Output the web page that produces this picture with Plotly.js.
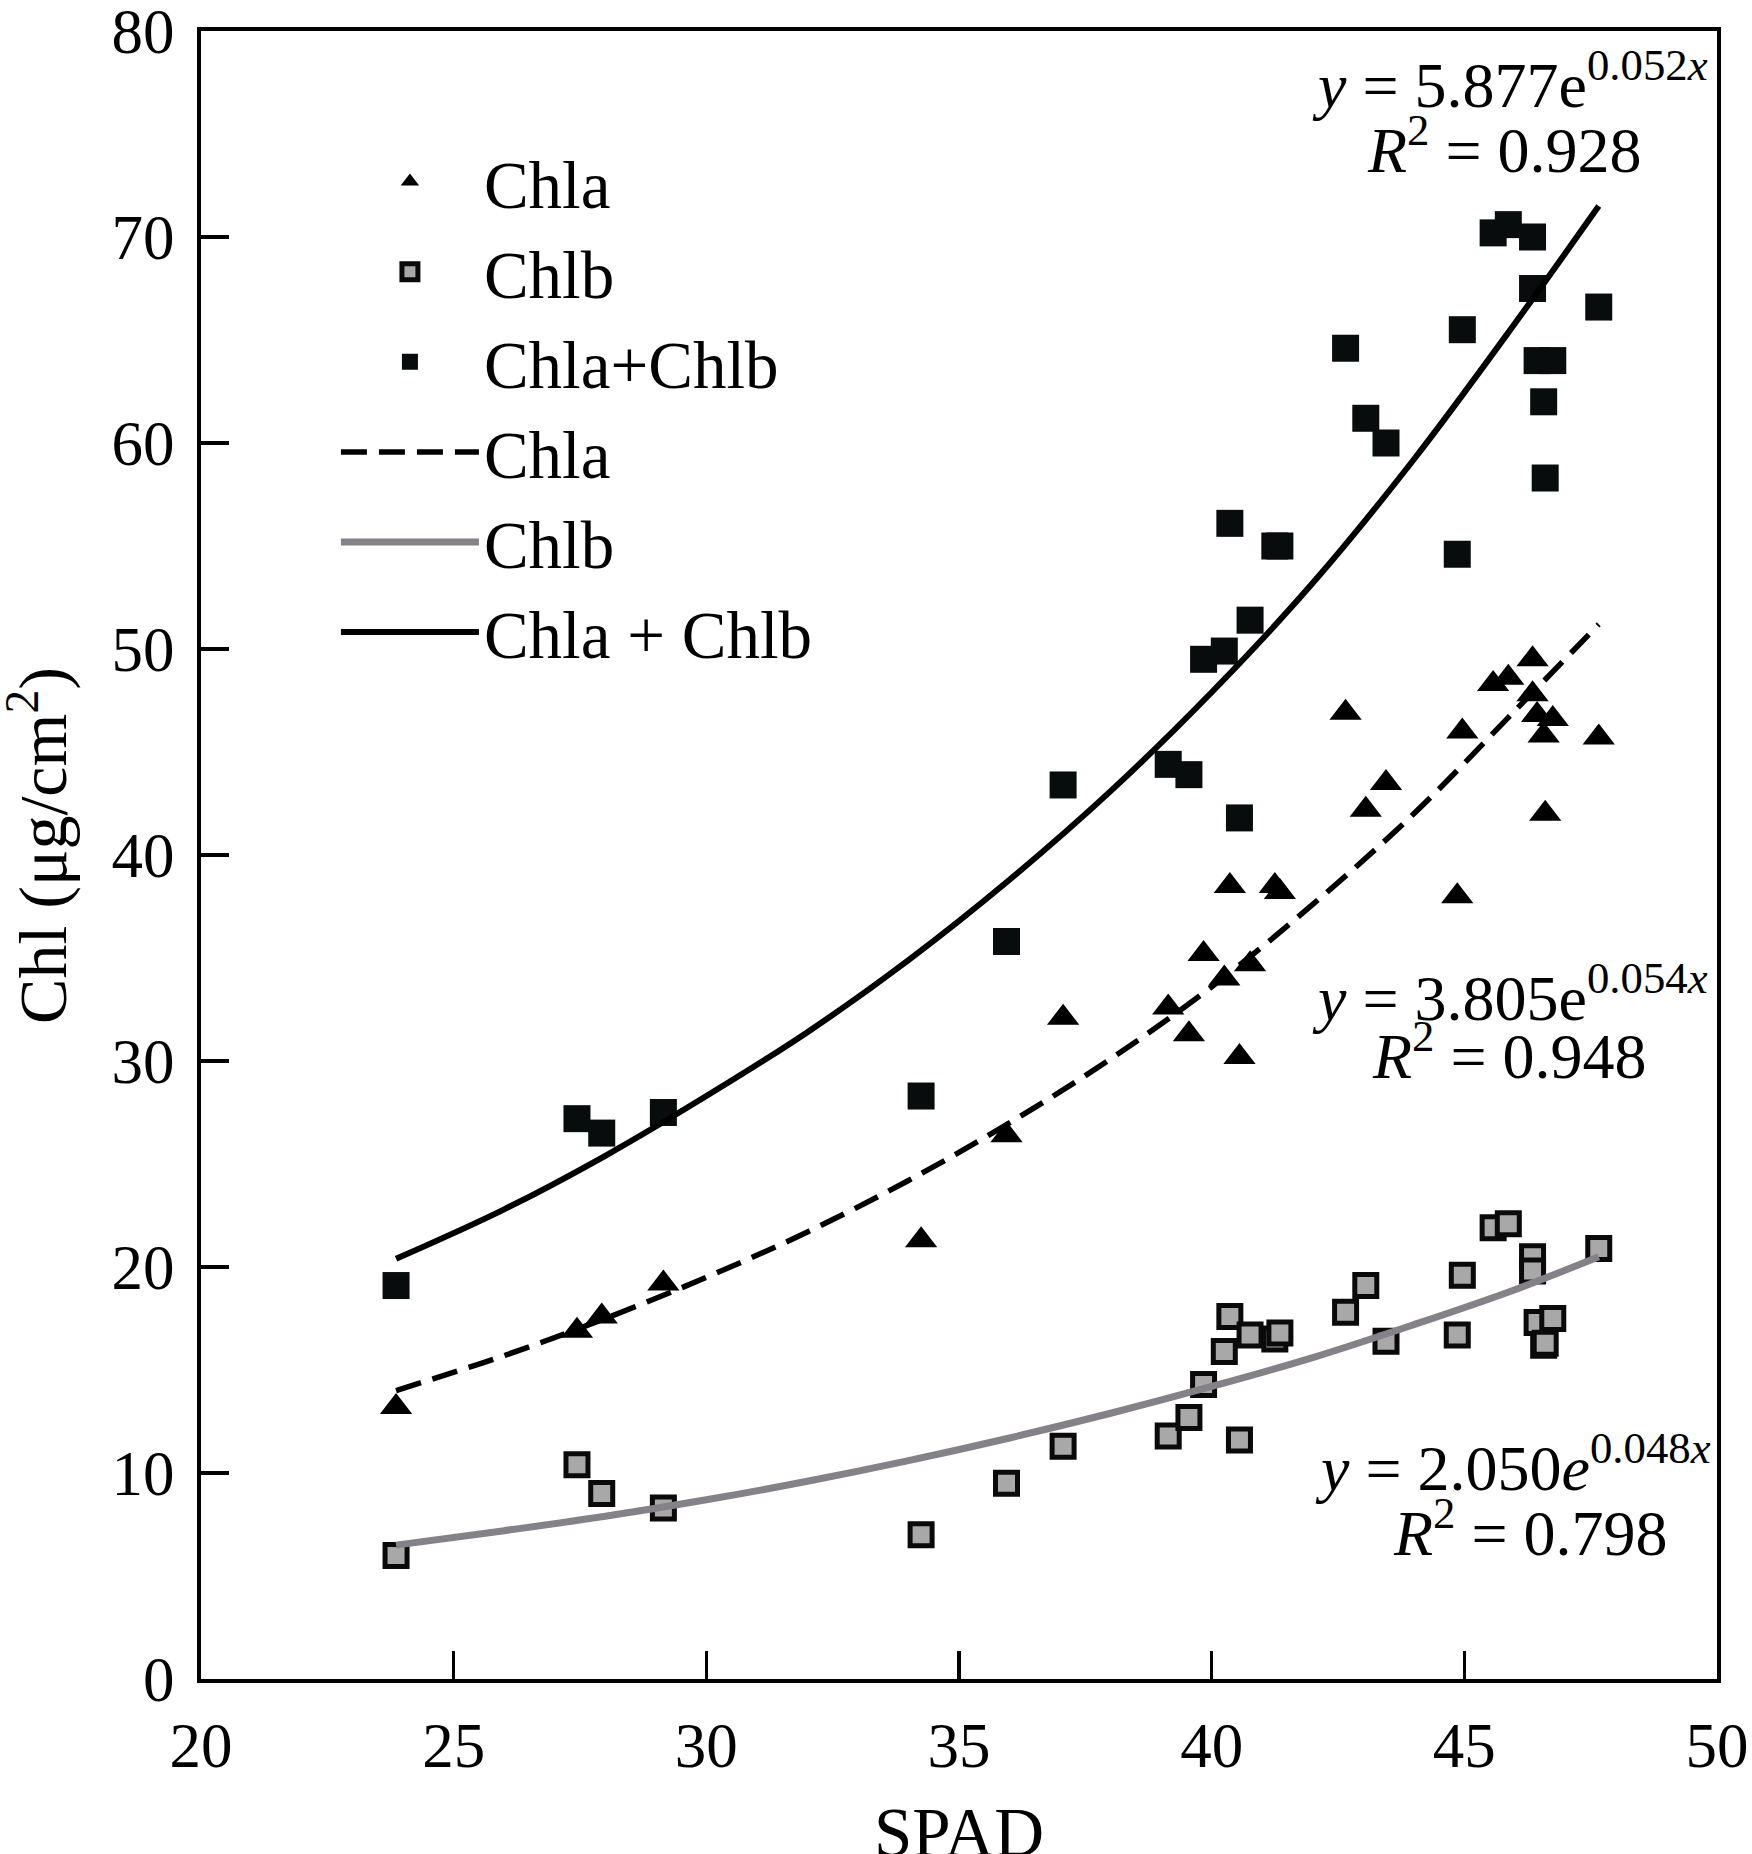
<!DOCTYPE html>
<html>
<head>
<meta charset="utf-8">
<script src="https://cdn.plot.ly/plotly-3.0.1.min.js"></script>
<style>
  html, body { margin: 0; padding: 0; background: white; }
  #chart { width: 1752px; height: 1854px; }
</style>
</head>
<body>
<div id="chart"></div>
<script>
// SPAD readings, shared by the three measured series
const spad = [23.86, 27.44, 27.93, 29.15, 34.25, 35.94, 37.06, 39.14, 39.55, 39.84,
  40.25, 40.36, 40.55, 40.76, 41.25, 41.35, 42.65, 43.05, 43.45, 44.86,
  44.96, 45.57, 45.87, 46.35, 46.35, 46.44, 46.75, 46.57, 46.60, 47.66];

const chla = [13.2, 16.9, 17.6, 19.2, 21.3, 26.4, 32.1, 32.6, 31.3, 35.2,
  34.0, 38.5, 30.2, 34.7, 38.5, 38.2, 46.9, 42.2, 43.5, 38.0,
  46.0, 48.3, 48.6, 49.5, 47.8, 46.8, 46.6, 45.8, 42.0, 45.7];

const chlb = [6.0, 10.4, 9.0, 8.3, 7.0, 9.5, 11.3, 11.8, 12.7, 14.3,
  15.9, 17.6, 11.6, 16.7, 16.5, 16.8, 17.8, 19.1, 16.4, 16.7,
  19.6, 21.9, 22.1, 20.5, 19.8, 17.3, 17.5, 16.2, 16.3, 20.9];

const chlab = [19.1, 27.2, 26.5, 27.5, 28.3, 35.8, 43.4, 44.4, 43.9, 49.5,
  49.9, 56.1, 41.8, 51.4, 55.0, 55.0, 64.6, 61.2, 60.0, 54.6,
  65.5, 70.2, 70.6, 70.0, 67.5, 64.0, 64.0, 62.0, 58.3, 66.6];

// fitted curves
const fitX = [23.86, 26, 28, 30, 32, 34, 36, 38, 40, 42, 44, 46, 47.66];
const fitChla = [14.0, 15.7, 17.5, 19.5, 21.7, 24.2, 27.0, 30.1, 33.6, 37.6, 42.0, 47.0, 51.2];
const fitChlb = [6.5, 7.2, 7.9, 8.7, 9.6, 10.6, 11.7, 12.9, 14.2, 15.6, 17.2, 18.9, 20.5];
const fitChlab = [20.4, 22.8, 25.4, 28.3, 31.4, 34.9, 38.8, 43.1, 47.9, 53.2, 59.2, 65.8, 71.5];

const xTicks = [20, 25, 30, 35, 40, 45, 50];
const yTicks = [0, 10, 20, 30, 40, 50, 60, 70, 80];

const serif = 'Liberation Serif, Times New Roman, serif';

const data = [
  { x: spad, y: chla, name: 'Chla', mode: 'markers', type: 'scatter',
    marker: { symbol: 'triangle-up', size: 28, color: 'black' } },
  { x: spad, y: chlb, name: 'Chlb', mode: 'markers', type: 'scatter',
    marker: { symbol: 'square', size: 22, color: '#a8a8a8', line: { color: '#0a0a0a', width: 5 } } },
  { x: spad, y: chlab, name: 'Chla+Chlb', mode: 'markers', type: 'scatter',
    marker: { symbol: 'square', size: 27, color: '#080c0c' } },
  { x: fitX, y: fitChla, name: 'Chla', mode: 'lines', type: 'scatter',
    line: { color: 'black', width: 5.5, dash: '26px,12px', shape: 'spline' } },
  { x: fitX, y: fitChlb, name: 'Chlb', mode: 'lines', type: 'scatter',
    line: { color: '#848287', width: 7, shape: 'spline' } },
  { x: fitX, y: fitChlab, name: 'Chla + Chlb', mode: 'lines', type: 'scatter',
    line: { color: 'black', width: 6, shape: 'spline' } }
];

const eqFont = { family: serif, size: 64, color: 'black' };

// equation labels next to each fitted curve
const eqNotes = [
  { x: 45.9, y: 77.6, text: '<i>y</i> = 5.877e<sup>0.052<i>x</i></sup>' },
  { x: 45.8, y: 74.45, text: '<i>R</i><sup>2</sup> = 0.928' },
  { x: 45.9, y: 33.3, text: '<i>y</i> = 3.805e<sup>0.054<i>x</i></sup>' },
  { x: 45.9, y: 30.45, text: '<i>R</i><sup>2</sup> = 0.948' },
  { x: 45.96, y: 10.45, text: '<i>y</i> = 2.050<i>e</i><sup>0.048<i>x</i></sup>' },
  { x: 46.3, y: 7.3, text: '<i>R</i><sup>2</sup> = 0.798' }
].map(a => Object.assign({ xref: 'x', yref: 'y', showarrow: false,
  xanchor: 'center', yanchor: 'middle', font: eqFont }, a));

// axis titles as notes, so they can sit as far out as in the original
const xTitle = { xref: 'paper', yref: 'paper', x: 0.5, y: -0.069,
  xanchor: 'center', yanchor: 'top', showarrow: false, text: 'SPAD',
  font: { family: serif, size: 69, color: 'black' } };
const yTitle = { xref: 'paper', yref: 'paper', x: -0.107, y: 0.506,
  xanchor: 'center', yanchor: 'middle', showarrow: false, textangle: -90,
  text: 'Chl (μg/cm<sup>2</sup>)',
  font: { family: serif, size: 68, color: 'black' } };

const layout = {
  width: 1752,
  height: 1854,
  margin: { l: 201, r: 35, t: 31, b: 175 },
  paper_bgcolor: 'white',
  plot_bgcolor: 'white',
  font: { family: serif, color: 'black' },
  showlegend: true,
  legend: {
    x: 0.089, y: 0.939, xanchor: 'left', yanchor: 'top',
    bgcolor: 'rgba(0,0,0,0)',
    font: { family: serif, size: 67, color: 'black' },
    itemwidth: 138,
    tracegroupgap: 0
  },
  xaxis: {
    range: [20, 50],
    tickvals: xTicks,
    ticks: 'inside', ticklen: 28, tickwidth: 3.5, tickcolor: 'black',
    showline: true, linecolor: 'black', linewidth: 4, mirror: true,
    showgrid: false, zeroline: false,
    tickfont: { family: serif, size: 63, color: 'black' },
    ticklabeloverflow: 'allow',
    ticklabelstandoff: 8
  },
  yaxis: {
    range: [0, 80],
    tickvals: yTicks,
    ticks: 'inside', ticklen: 28, tickwidth: 3.5, tickcolor: 'black',
    showline: true, linecolor: 'black', linewidth: 4, mirror: true,
    showgrid: false, zeroline: false,
    tickfont: { family: serif, size: 63, color: 'black' },
    ticklabeloverflow: 'allow',
    ticklabelstandoff: 10
  },
  annotations: eqNotes.concat([xTitle, yTitle])
};

Plotly.newPlot('chart', data, layout, { displayModeBar: false, staticPlot: true });
</script>
</body>
</html>
